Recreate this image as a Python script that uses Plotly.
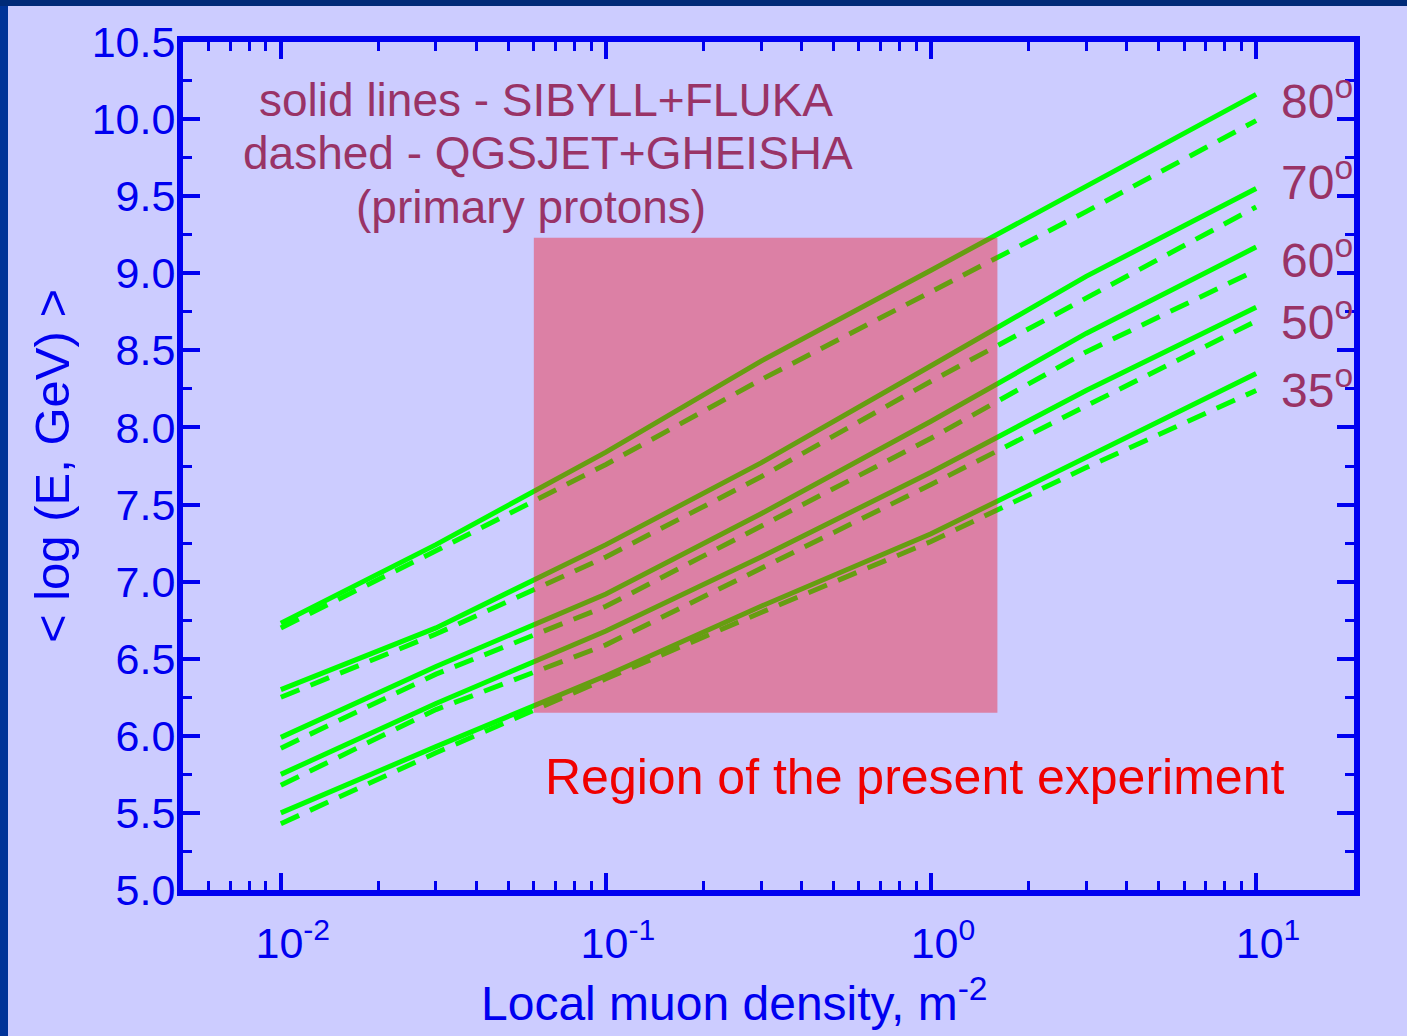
import numpy as np
import plotly.graph_objects as go

# Local muon density grid (m^-2) at which the curves are tabulated
density = [0.01, 0.03, 0.1, 0.3, 1.0, 3.0, 10.0]

# Zenith angles (degrees) and <log(E, GeV)> for each model
angles = ["80", "70", "60", "50", "35"]

sibyll_fluka = {
    "80": [6.73, 7.24, 7.84, 8.43, 9.02, 9.56, 10.16],
    "70": [6.30, 6.70, 7.24, 7.77, 8.40, 8.98, 9.55],
    "60": [5.99, 6.45, 6.92, 7.44, 8.04, 8.61, 9.17],
    "50": [5.75, 6.21, 6.68, 7.16, 7.71, 8.24, 8.78],
    "35": [5.50, 5.93, 6.39, 6.84, 7.31, 7.81, 8.35],
}
qgsjet_gheisha = {
    "80": [6.70, 7.20, 7.76, 8.31, 8.88, 9.40, 9.99],
    "70": [6.25, 6.66, 7.16, 7.68, 8.30, 8.84, 9.43],
    "60": [5.92, 6.40, 6.84, 7.36, 7.93, 8.49, 9.02],
    "50": [5.68, 6.17, 6.59, 7.09, 7.63, 8.14, 8.69],
    "35": [5.43, 5.89, 6.37, 6.80, 7.26, 7.74, 8.24],
}

# Region covered by the present experiment
region_density = [0.06, 1.6]
region_logE = [6.15, 9.23]

# Axis ticks
x_major = [0.01, 0.1, 1, 10]
x_major_text = ["&nbsp;&nbsp;10<sup>-2</sup>", "&nbsp;&nbsp;10<sup>-1</sup>",
                "&nbsp;&nbsp;10<sup>0</sup>", "&nbsp;&nbsp;10<sup>1</sup>"]
x_minor = [m * 10.0 ** e for e in (-3, -2, -1, 0) for m in range(2, 10) if 0.005 < m * 10.0 ** e < 20]
y_major = [5.0 + 0.5 * i for i in range(12)]

BLUE = "#0000F0"
GREEN = "#00FF00"
MAROON = "#993366"
FONT = "Liberation Sans, Arial, sans-serif"

W, H = 1407, 1036
L, R, T, B = 183, 53, 42, 146
pw, ph = W - L - R, H - T - B


def px(xpix):
    return (xpix - L) / pw


def py(ypix):
    return (H - B - ypix) / ph


fig = go.Figure()

for a in angles:
    fig.add_trace(go.Scatter(x=density, y=sibyll_fluka[a], mode="lines",
                             line=dict(color=GREEN, width=5), showlegend=False,
                             name=f"SIBYLL+FLUKA {a}°"))
    fig.add_trace(go.Scatter(x=density, y=qgsjet_gheisha[a], mode="lines",
                             line=dict(color=GREEN, width=5, dash="20px,12px"),
                             showlegend=False, name=f"QGSJET+GHEISHA {a}°"))

# Translucent box laid over the curves
rx = [region_density[0], region_density[1], region_density[1], region_density[0], region_density[0]]
ry = [region_logE[0], region_logE[0], region_logE[1], region_logE[1], region_logE[0]]
fig.add_trace(go.Scatter(x=rx, y=ry, mode="lines", fill="toself",
                         fillcolor="rgba(244,24,40,0.42)", line=dict(width=0),
                         showlegend=False, hoverinfo="skip"))

axis_common = dict(
    showline=True, linecolor=BLUE, linewidth=6, mirror="allticks",
    ticks="inside", tickcolor=BLUE, tickwidth=4, ticklen=17,
    showgrid=False, zeroline=False,
    tickfont=dict(family=FONT, size=43, color=BLUE),
)

fig.update_xaxes(
    type="log", range=[np.log10(0.005), np.log10(20)],
    tickmode="array", tickvals=x_major, ticktext=x_major_text,
    ticklabelstandoff=10,
    minor=dict(tickmode="array", tickvals=x_minor, ticks="inside",
               ticklen=9, tickwidth=3, tickcolor=BLUE, showgrid=False),
    **axis_common,
)
fig.update_yaxes(
    range=[5.0, 10.5], tickmode="array", tickvals=y_major, tickformat=".1f",
    ticklabelstandoff=-7,
    minor=dict(dtick=0.25, ticks="inside", ticklen=9, tickwidth=3,
               tickcolor=BLUE, showgrid=False),
    title=dict(text="&lt; log (E, GeV) &gt;",
               font=dict(family=FONT, size=49, color=BLUE), standoff=9),
    **axis_common,
)

anns = []
legend_lines = [
    ("solid lines - SIBYLL+FLUKA", 546, 100),
    ("dashed - QGSJET+GHEISHA", 548, 153),
    ("(primary protons)", 531, 207),
]
for text, xc, yc in legend_lines:
    anns.append(dict(xref="paper", yref="paper", x=px(xc), y=py(yc),
                     text=text, showarrow=False, xanchor="center",
                     yanchor="middle",
                     font=dict(family=FONT, size=46, color=MAROON)))

anns.append(dict(xref="paper", yref="paper", x=px(914), y=py(777),
                 text="Region of the present experiment", showarrow=False,
                 xanchor="center", yanchor="middle",
                 font=dict(family=FONT, size=50, color="#F00000")))

# x-axis title
anns.append(dict(xref="paper", yref="paper", x=px(734), y=py(1000),
                 text="Local muon density, m<sup>-2</sup>", showarrow=False,
                 xanchor="center", yanchor="middle",
                 font=dict(family=FONT, size=48, color=BLUE)))

angle_y = {"80": 98, "70": 179, "60": 257, "50": 319, "35": 387}
for a in angles:
    anns.append(dict(xref="paper", yref="paper", x=px(1279), y=py(angle_y[a]),
                     text=f"{a}<sup>o</sup>", showarrow=False,
                     xanchor="left", yanchor="middle",
                     font=dict(family=FONT, size=48, color=MAROON)))

# Dark slide frame along the top and left edges
shapes = [
    dict(type="rect", xref="paper", yref="paper", x0=px(0), x1=px(8),
         y0=py(H), y1=py(0), fillcolor="#003399", line=dict(width=0), layer="below"),
    dict(type="rect", xref="paper", yref="paper", x0=px(0), x1=px(W),
         y0=py(6), y1=py(0), fillcolor="#002a78", line=dict(width=0), layer="below"),
]

fig.update_layout(
    width=W, height=H,
    margin=dict(l=L, r=R, t=T, b=B, autoexpand=False),
    paper_bgcolor="#CCCCFF", plot_bgcolor="#CCCCFF",
    annotations=anns, shapes=shapes, showlegend=False,
    font=dict(family=FONT, color=BLUE),
)

fig.write_html("out.html")
